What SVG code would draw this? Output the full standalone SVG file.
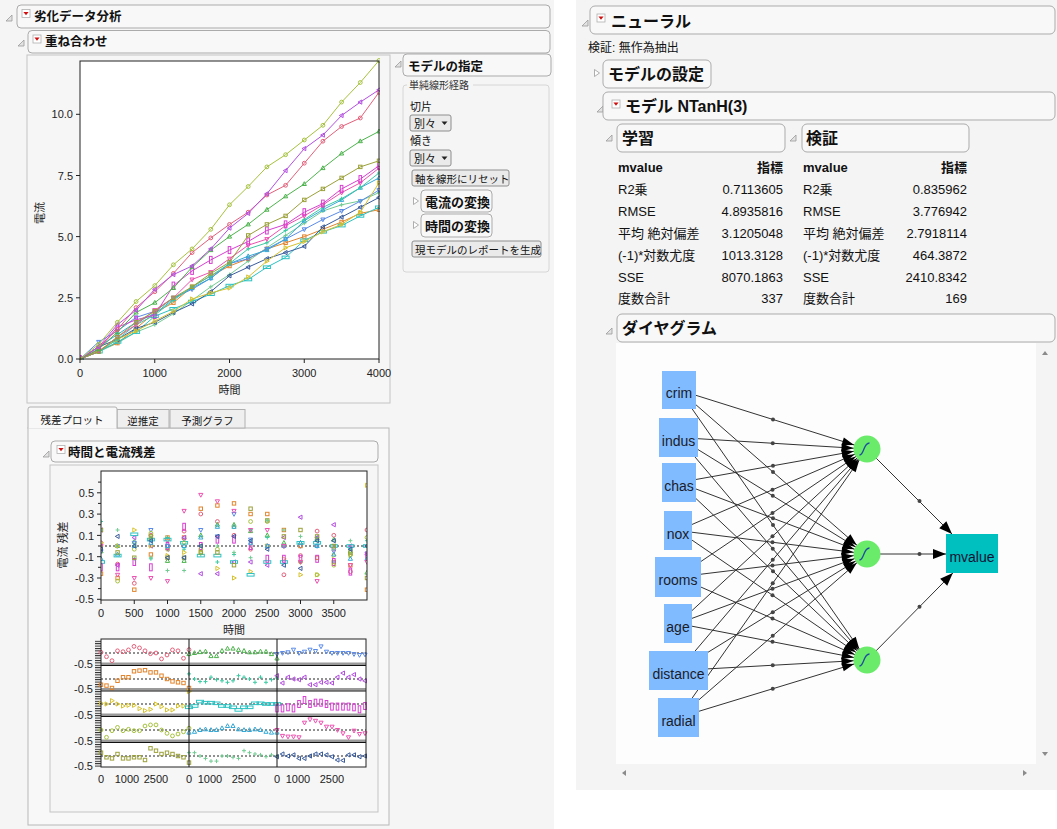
<svg xmlns="http://www.w3.org/2000/svg" width="1057" height="829" viewBox="0 0 1057 829">
<defs>
<style>
 text { font-family: "Liberation Sans","Noto Sans CJK JP",sans-serif; fill:#111; }
 .hdr { fill:#f8f8f8; stroke:#ababab; stroke-width:1; }
 .h1 { font-size:12.5px; font-weight:bold; }
 .h2 { font-size:16px; font-weight:bold; }
 .h3 { font-size:13px; font-weight:bold; }
 .sm { font-size:11px; }
 .bt { font-size:10.5px; }
 .tk { font-size:11px; fill:#222; }
 .tr { text-anchor:end; }
 .tm { text-anchor:middle; }
 .tbl { font-size:13px; }
 .frame { fill:none; stroke:#222; stroke-width:1; }
 .panel { fill:#f6f6f6; stroke:#c4c4c4; stroke-width:1; }
 .btn { fill:#eaeaea; stroke:#8e8e8e; stroke-width:1; }
 .edge { stroke:#333; stroke-width:1; fill:none; }
 .dot { fill:#444; }
 .in rect { fill:#80bbff; }
 .in text { font-size:14px; fill:#1b1b2a; text-anchor:middle; }
 .hid circle { fill:#6aeb6a; }
 .hid path { fill:none; stroke:#1f4f9f; stroke-width:1.3; }
 .ln { fill:none; stroke-width:1; }
 .sA { stroke:#a5c23c; marker:url(#mA); }
 .sB { stroke:#b34fe0; marker:url(#mB); }
 .sC { stroke:#e3607a; marker:url(#mC); }
 .sD { stroke:#4cb34c; marker:url(#mD); }
 .sE { stroke:#9ba13a; marker:url(#mE); }
 .sF { stroke:#d63fd0; marker:url(#mF); }
 .sG { stroke:#ec52b0; marker:url(#mG); }
 .sH { stroke:#3ccaa2; marker:url(#mH); }
 .sI { stroke:#36a9d6; marker:url(#mI); }
 .sJ { stroke:#d6c22e; marker:url(#mJ); }
 .sK { stroke:#5b8be8; marker:url(#mK); }
 .sL { stroke:#3a5c9c; marker:url(#mL); }
 .sM { stroke:#2cc2c2; marker:url(#mM); }
 .sN { stroke:#e2842c; marker:url(#mN); }
 .sO { stroke:#72cc92; marker:url(#mO); }
 .pt { fill:none; stroke:none; }
 .zero { stroke:#222; stroke-width:1; stroke-dasharray:2 2; }
</style>

<!-- point symbols, one per series -->
<marker id="mA" viewBox="-4 -4 8 8" markerWidth="8" markerHeight="8" markerUnits="userSpaceOnUse" overflow="visible"><circle r="1.9" fill="none" stroke="#a5c23c" stroke-width="1"/></marker>
<marker id="mB" viewBox="-4 -4 8 8" markerWidth="8" markerHeight="8" markerUnits="userSpaceOnUse" overflow="visible"><path d="M-2.3,0L1.5,-2.1V2.1Z" fill="none" stroke="#b34fe0" stroke-width="1"/></marker>
<marker id="mC" viewBox="-4 -4 8 8" markerWidth="8" markerHeight="8" markerUnits="userSpaceOnUse" overflow="visible"><circle r="1.9" fill="none" stroke="#e3607a" stroke-width="1"/></marker>
<marker id="mD" viewBox="-4 -4 8 8" markerWidth="8" markerHeight="8" markerUnits="userSpaceOnUse" overflow="visible"><path d="M0,-2.3L2.1,1.5H-2.1Z" fill="none" stroke="#4cb34c" stroke-width="1"/></marker>
<marker id="mE" viewBox="-4 -4 8 8" markerWidth="8" markerHeight="8" markerUnits="userSpaceOnUse" overflow="visible"><rect x="-1.7" y="-1.7" width="3.4" height="3.4" fill="none" stroke="#9ba13a" stroke-width="1"/></marker>
<marker id="mF" viewBox="-4 -4 8 8" markerWidth="8" markerHeight="8" markerUnits="userSpaceOnUse" overflow="visible"><rect x="-1.3" y="-3.5" width="2.6" height="7" fill="none" stroke="#d63fd0" stroke-width="1"/></marker>
<marker id="mG" viewBox="-4 -4 8 8" markerWidth="8" markerHeight="8" markerUnits="userSpaceOnUse" overflow="visible"><path d="M0,2.3L2.1,-1.5H-2.1Z" fill="none" stroke="#ec52b0" stroke-width="1"/></marker>
<marker id="mH" viewBox="-4 -4 8 8" markerWidth="8" markerHeight="8" markerUnits="userSpaceOnUse" overflow="visible"><path d="M-2,0H2M0,-2V2" fill="none" stroke="#3ccaa2" stroke-width="1"/></marker>
<marker id="mI" viewBox="-4 -4 8 8" markerWidth="8" markerHeight="8" markerUnits="userSpaceOnUse" overflow="visible"><path d="M0,-2.3L2.1,1.5H-2.1Z" fill="none" stroke="#36a9d6" stroke-width="1"/></marker>
<marker id="mJ" viewBox="-4 -4 8 8" markerWidth="8" markerHeight="8" markerUnits="userSpaceOnUse" overflow="visible"><path d="M2.3,0L-1.5,-2.1V2.1Z" fill="none" stroke="#d6c22e" stroke-width="1"/></marker>
<marker id="mK" viewBox="-4 -4 8 8" markerWidth="8" markerHeight="8" markerUnits="userSpaceOnUse" overflow="visible"><path d="M0,2.3L2.1,-1.5H-2.1Z" fill="none" stroke="#5b8be8" stroke-width="1"/></marker>
<marker id="mL" viewBox="-4 -4 8 8" markerWidth="8" markerHeight="8" markerUnits="userSpaceOnUse" overflow="visible"><path d="M-2.3,0L1.5,-2.1V2.1Z" fill="none" stroke="#3a5c9c" stroke-width="1"/></marker>
<marker id="mM" viewBox="-4 -4 8 8" markerWidth="8" markerHeight="8" markerUnits="userSpaceOnUse" overflow="visible"><rect x="-3.5" y="-1.3" width="7" height="2.6" fill="none" stroke="#2cc2c2" stroke-width="1"/></marker>
<marker id="mN" viewBox="-4 -4 8 8" markerWidth="8" markerHeight="8" markerUnits="userSpaceOnUse" overflow="visible"><rect x="-1.7" y="-1.7" width="3.4" height="3.4" fill="none" stroke="#e2842c" stroke-width="1"/></marker>
<marker id="mO" viewBox="-4 -4 8 8" markerWidth="8" markerHeight="8" markerUnits="userSpaceOnUse" overflow="visible"><path d="M-2,0H2M0,-2V2" fill="none" stroke="#72cc92" stroke-width="1"/></marker>

<!-- arrowheads of the network diagram -->
<marker id="ah" viewBox="-27 -5 30 10" markerWidth="30" markerHeight="10" refX="0" refY="0" markerUnits="userSpaceOnUse" orient="auto" overflow="visible"><path d="M-13.5,0L-25.5,-4L-25.5,4Z" fill="#000"/></marker>
<marker id="ah2" viewBox="-15 -6 16 12" markerWidth="16" markerHeight="12" refX="0" refY="0" markerUnits="userSpaceOnUse" orient="auto" overflow="visible"><path d="M0,0L-13,-5L-13,5Z" fill="#000"/></marker>

<pattern id="tkp" width="6" height="2.4" patternUnits="userSpaceOnUse"><rect width="6" height="1" fill="#222"/></pattern>

<clipPath id="cpRes"><rect x="101" y="471" width="266" height="129"/></clipPath>
<clipPath id="cpOv"><rect x="80" y="58" width="300" height="302"/></clipPath>

<g id="redicon"><rect width="8" height="8" fill="#fff" stroke="#b0b0b0" stroke-width="0.8"/><path d="M1.4,2.5H6.6L4,5.8Z" fill="#d01010"/></g>
<path id="dtri" d="M0,6L6,0V6Z" fill="#e2e2e2" stroke="#9a9a9a" stroke-width="0.8"/>
<path id="ctri" d="M0.5,0L5.5,3.5L0.5,7Z" fill="#fff" stroke="#9a9a9a" stroke-width="0.8"/>
</defs>

<!-- page backgrounds -->
<rect width="1057" height="829" fill="#fff"/>
<rect x="0" y="0" width="554" height="829" fill="#f5f5f5"/>
<rect x="576" y="0" width="481" height="790" fill="#f4f4f4"/>

<!-- ===== left report ===== -->
<g id="hdr-degradation">
 <use href="#dtri" x="6" y="15"/>
 <rect class="hdr" x="17" y="5" width="533" height="23" rx="4"/>
 <use href="#redicon" x="22" y="9.5"/>
 <text class="h1" x="34" y="21">劣化データ分析</text>
</g>
<g id="hdr-overlay">
 <use href="#dtri" x="18" y="40"/>
 <rect class="hdr" x="28" y="30.5" width="522" height="22.5" rx="4"/>
 <use href="#redicon" x="33" y="35"/>
 <text class="h1" x="45" y="46">重ね合わせ</text>
</g>

<!-- overlay plot -->
<g id="overlay-plot">
 <rect class="panel" x="27" y="55" width="363" height="348"/>
 <rect x="80" y="61" width="299" height="298" fill="#fff"/>
 <g clip-path="url(#cpOv)">
  <polyline class="ln sO" points="80,359 98.7,351.7 117.4,343.1 136.1,332.1 154.8,324.7 173.4,313.7 192.1,300.3 210.8,286.8 229.5,274.6 248.2,261.1 266.9,247.7 285.6,235.4 304.3,223.2 322.9,211 341.6,204.8 360.3,200.9 379,192.6"/>
  <polyline class="ln sN" points="80,359 98.7,350.4 117.4,343.1 136.1,328.4 154.8,312.5 173.4,302.7 192.1,286.8 210.8,275.8 229.5,266 248.2,258.7 266.9,248.9 285.6,242.8 304.3,236.6 322.9,229.3 341.6,222 360.3,213.4 379,209.7"/>
  <polyline class="ln sM" points="80,359 98.7,351.7 117.4,341.9 136.1,332.1 154.8,316.2 173.4,308.8 192.1,301.5 210.8,294.2 229.5,285.6 248.2,279.5 266.9,267.2 285.6,257.4 304.3,240.3 322.9,231.8 341.6,225.6 360.3,215.9 379,207.3"/>
  <polyline class="ln sL" points="80,359 98.7,346.8 117.4,339.4 136.1,328.4 154.8,322.3 173.4,312.5 192.1,303.9 210.8,291.7 229.5,275.8 248.2,267.2 266.9,258.7 285.6,252.6 304.3,246.4 322.9,226.9 341.6,217.1 360.3,207.3 379,197.5"/>
  <polyline class="ln sK" points="80,359 98.7,341.9 117.4,330.9 136.1,317.4 154.8,311.3 173.4,297.8 192.1,289.3 210.8,278.2 229.5,263.6 248.2,258.7 266.9,248.9 285.6,239.1 304.3,229.3 322.9,219.5 341.6,211 360.3,201.2 379,190.2"/>
  <polyline class="ln sJ" points="80,359 98.7,350.4 117.4,339.4 136.1,330.9 154.8,321.1 173.4,311.3 192.1,299 210.8,292.9 229.5,288 248.2,277 266.9,261.1 285.6,247.7 304.3,241.5 322.9,231.8 341.6,224.4 360.3,212.2 379,182.8"/>
  <polyline class="ln sI" points="80,359 98.7,346.8 117.4,334.5 136.1,322.3 154.8,313.7 173.4,299 192.1,288 210.8,278.2 229.5,263.6 248.2,256.2 266.9,250.1 285.6,239.1 304.3,220.7 322.9,209.7 341.6,199.9 360.3,187.7 379,177.9"/>
  <polyline class="ln sH" points="80,359 98.7,351.7 117.4,339.4 136.1,324.7 154.8,315 173.4,300.3 192.1,286.8 210.8,275.8 229.5,263.6 248.2,248.9 266.9,242.8 285.6,230.5 304.3,219.5 322.9,207.3 341.6,198.7 360.3,187.7 379,173"/>
  <polyline class="ln sG" points="80,359 98.7,351.7 117.4,337 136.1,324.7 154.8,310.1 173.4,297.8 192.1,279.5 210.8,272.1 229.5,258.7 248.2,245.2 266.9,239.1 285.6,225.6 304.3,215.9 322.9,204.8 341.6,192.6 360.3,182.8 379,168.1"/>
  <polyline class="ln sF" points="80,359 98.7,349.2 117.4,327.2 136.1,319.8 154.8,315 173.4,285.6 192.1,270.9 210.8,259.9 229.5,250.1 248.2,241.5 266.9,230.5 285.6,224.4 304.3,212.2 322.9,203.6 341.6,188.9 360.3,179.1 379,165.7"/>
  <polyline class="ln sE" points="80,359 98.7,351.7 117.4,337 136.1,322.3 154.8,311.3 173.4,297.8 192.1,286.8 210.8,273.4 229.5,262.3 248.2,235.4 266.9,224.4 285.6,215.9 304.3,199.9 322.9,188.9 341.6,177.9 360.3,166.9 379,160.8"/>
  <polyline class="ln sD" points="80,359 98.7,349.2 117.4,332.1 136.1,312.5 154.8,302.7 173.4,288 192.1,267.2 210.8,250.1 229.5,236.6 248.2,224.4 266.9,209.7 285.6,196.3 304.3,184 322.9,168.1 341.6,153.5 360.3,141.2 379,131.4"/>
  <polyline class="ln sC" points="80,359 98.7,346.8 117.4,329.6 136.1,307.6 154.8,291.7 173.4,273.4 192.1,252.6 210.8,237.9 229.5,224.4 248.2,212.2 266.9,195 285.6,185.3 304.3,163.2 322.9,141.2 341.6,126.5 360.3,118 379,92.3"/>
  <polyline class="ln sB" points="80,359 98.7,346.8 117.4,324.7 136.1,310.1 154.8,289.3 173.4,274.6 192.1,266 210.8,248.9 229.5,228.1 248.2,213.4 266.9,193.8 285.6,170.6 304.3,148.6 322.9,135.1 341.6,115.5 360.3,102.1 379,89.8"/>
  <polyline class="ln sA" points="80,359 98.7,344.3 117.4,322.3 136.1,301.5 154.8,285.6 173.4,264.8 192.1,248.9 210.8,229.3 229.5,204.8 248.2,186.5 266.9,166.9 285.6,154.7 304.3,140 322.9,125.3 341.6,102.1 360.3,82.5 379,60.5"/>
 </g>
 <rect class="frame" x="80" y="61" width="299" height="298"/>
 <path d="M80,359v4M154.75,359v4M229.5,359v4M304.25,359v4M379,359v4M76,359h4M76,297.8h4M76,236.6h4M76,175.5h4M76,114.3h4" stroke="#222" stroke-width="1"/>
 <text class="tk tr" x="73" y="363">0.0</text>
 <text class="tk tr" x="73" y="301.8">2.5</text>
 <text class="tk tr" x="73" y="240.6">5.0</text>
 <text class="tk tr" x="73" y="179.5">7.5</text>
 <text class="tk tr" x="73" y="118.3">10.0</text>
 <text class="tk tm" x="80" y="377">0</text>
 <text class="tk tm" x="154.75" y="377">1000</text>
 <text class="tk tm" x="229.5" y="377">2000</text>
 <text class="tk tm" x="304.25" y="377">3000</text>
 <text class="tk tm" x="379" y="377">4000</text>
 <text class="tk tm" x="229.5" y="394">時間</text>
 <text class="tk tm" transform="translate(44,213) rotate(-90)">電流</text>
</g>

<!-- model specification panel -->
<g id="model-spec">
 <use href="#dtri" x="395" y="61"/>
 <rect class="hdr" x="403" y="54" width="148" height="22" rx="4"/>
 <text class="h1" x="408" y="70.5">モデルの指定</text>
 <rect x="403" y="85" width="146" height="187" rx="3" fill="none" stroke="#d6d6d6"/>
 <rect x="407" y="80" width="66" height="10" fill="#f5f5f5"/>
 <text x="409" y="89" style="font-size:10px;fill:#333">単純線形経路</text>
 <text class="sm" x="410" y="111">切片</text>
 <rect class="btn" x="410" y="115" width="41" height="16" rx="2"/>
 <text class="sm" x="414" y="127.5">別々</text>
 <path d="M441.5,121.5h6l-3,3.5z" fill="#222"/>
 <text class="sm" x="410" y="145">傾き</text>
 <rect class="btn" x="410" y="150" width="41" height="16" rx="2"/>
 <text class="sm" x="414" y="162.5">別々</text>
 <path d="M441.5,156.5h6l-3,3.5z" fill="#222"/>
 <rect class="btn" x="412" y="170" width="97" height="16" rx="2"/>
 <text class="bt" x="415" y="182.5">軸を線形にリセット</text>
 <use href="#ctri" x="413" y="197.5"/>
 <rect class="hdr" x="421" y="190" width="71" height="22" rx="4"/>
 <text class="h3" x="425" y="206.5">電流の変換</text>
 <use href="#ctri" x="413" y="221.5"/>
 <rect class="hdr" x="421" y="214" width="71" height="23" rx="4"/>
 <text class="h3" x="425" y="230.5">時間の変換</text>
 <rect class="btn" x="412" y="241" width="129" height="16" rx="2"/>
 <text class="bt" x="415" y="253.5">現モデルのレポートを生成</text>
</g>

<!-- tabs -->
<g id="tabs">
 <rect x="28" y="428" width="361" height="397" fill="#f8f8f8" stroke="#b8b8b8"/>
 <rect x="117" y="409.5" width="52" height="18.5" fill="#efefef" stroke="#b0b0b0"/>
 <rect x="170" y="409.5" width="75" height="18.5" fill="#efefef" stroke="#b0b0b0"/>
 <path d="M28,428.5V409Q28,407 30,407H115Q117,407 117,409V428.5" fill="#f8f8f8" stroke="#b0b0b0"/>
 <text class="bt tm" x="72" y="424">残差プロット</text>
 <text class="bt tm" x="143" y="425">逆推定</text>
 <text class="bt tm" x="207.5" y="425">予測グラフ</text>
</g>

<g id="hdr-residual">
 <use href="#dtri" x="43" y="451"/>
 <rect class="hdr" x="51" y="441" width="327" height="21" rx="4"/>
 <use href="#redicon" x="57" y="445.5"/>
 <text class="h1" x="68" y="457">時間と電流残差</text>
</g>

<!-- residual plot -->
<g id="residual-plot">
 <rect class="panel" x="50" y="465" width="328" height="347"/>
 <rect x="101" y="471" width="266" height="129" fill="#fff"/>
 <line class="zero" x1="101" y1="546" x2="367" y2="546"/>
 <g clip-path="url(#cpRes)">
  <g transform="translate(101,546)">
   <polyline class="sC pt" points="0,-3.2 16.6,18.1 33.3,37.3 49.9,-10.7 66.5,-6.4 83.1,-14.9 99.8,-32 116.4,-24.5 133,-10.7 149.6,3.2 166.3,0 182.9,28.8 199.5,9.6 216.1,-14.9 232.8,-10.7 249.4,25.6 266,-16"/>
   <polyline class="sD pt" points="0,5.3 16.6,0 33.3,-4.3 49.9,-7.5 66.5,14.9 83.1,14.9 99.8,-10.7 116.4,-21.3 133,-21.3 149.6,-14.9 166.3,-10.7 182.9,-3.2 199.5,-3.2 216.1,-7.5 232.8,-6.4 249.4,5.3 266,26.6"/>
   <polyline class="sK pt" points="0,5.3 16.6,0 33.3,-3.2 49.9,-16 66.5,0 83.1,-6.4 99.8,-16 116.4,-9.6 133,-32 149.6,-6.4 166.3,0 182.9,0 199.5,0 216.1,0 232.8,5.3 249.4,9.6 266,7.5"/>
   <polyline class="sN pt" points="0,27.7 16.6,32 33.3,43.7 49.9,8.5 66.5,-8.5 83.1,-8.5 99.8,-37.3 116.4,-40.5 133,-42.6 149.6,-32 166.3,-32 182.9,-16 199.5,0 216.1,11.7 232.8,16 249.4,19.2 266,43.7"/>
   <polyline class="sH pt" points="0,-24.5 16.6,0 33.3,12.8 49.9,12.8 66.5,-8.5 83.1,3.2 99.8,8.5 116.4,16 133,8.5 149.6,-16 166.3,-8.5 182.9,0 199.5,16 216.1,-8.5 232.8,16 249.4,3.2 266,-5.3"/>
   <polyline class="sB pt" points="0,-16 16.6,19.2 33.3,-8.5 49.9,0 66.5,3.2 83.1,-8.5 99.8,27.7 116.4,27.7 133,16 149.6,16 166.3,19.2 182.9,-8.5 199.5,-28.8 216.1,-8.5 232.8,-21.3 249.4,0 266,8.5"/>
   <polyline class="sJ pt" points="0,-3.2 16.6,0 33.3,-16 49.9,0 66.5,9.6 83.1,6.4 99.8,6.4 116.4,22.4 133,32 149.6,25.6 166.3,0 182.9,12.8 199.5,28.8 216.1,28.8 232.8,9.6 249.4,9.6 266,-60.7"/>
   <polyline class="sM pt" points="0,16 16.6,9.6 33.3,-11.7 49.9,-6.4 66.5,-6.4 83.1,-3.2 99.8,9.6 116.4,9.6 133,16 149.6,28.8 166.3,16 182.9,16 199.5,-3.2 216.1,-3.2 232.8,0 249.4,0 266,0"/>
   <polyline class="sF pt" points="0,21.3 16.6,21.3 33.3,16 49.9,21.3 66.5,0 83.1,-19.2 99.8,0 116.4,-6.4 133,-6.4 149.6,0 166.3,12.8 182.9,12.8 199.5,12.8 216.1,12.8 232.8,16 249.4,25.6 266,9.6"/>
   <polyline class="sA pt" points="0,0 16.6,35.1 33.3,3.2 49.9,-12.8 66.5,3.2 83.1,-3.2 99.8,3.2 116.4,3.2 133,-19.2 149.6,-24.5 166.3,-24.5 182.9,0 199.5,16 216.1,28.8 232.8,19.2 249.4,8.5 266,-8.5"/>
   <polyline class="sI pt" points="0,12.8 16.6,8.5 33.3,0 49.9,-3.2 66.5,0 83.1,0 99.8,-8.5 116.4,-19.2 133,-19.2 149.6,-3.2 166.3,0 182.9,0 199.5,-3.2 216.1,0 232.8,8.5 249.4,12.8 266,12.8"/>
   <polyline class="sG pt" points="0,0 16.6,28.8 33.3,32 49.9,32 66.5,35.1 83.1,-35.1 99.8,-51.1 116.4,-44.7 133,-35.1 149.6,-16 166.3,-16 182.9,0 199.5,16 216.1,35.1 232.8,3.2 249.4,19.2 266,16"/>
   <polyline class="sE pt" points="0,-16 16.6,6.4 33.3,11.7 49.9,-9.6 66.5,11.7 83.1,11.7 99.8,6.4 116.4,6.4 133,19.2 149.6,-37.3 166.3,-25.6 182.9,-9.6 199.5,-16 216.1,-9.6 232.8,0 249.4,6.4 266,32"/>
   <polyline class="sO pt" points="0,-16 16.6,-16 33.3,0 49.9,11.7 66.5,24.5 83.1,24.5 99.8,0 116.4,0 133,6.4 149.6,11.7 166.3,-25.6 182.9,-16 199.5,-9.6 216.1,-5.3 232.8,3.2 249.4,-5.3 266,0"/>
   <polyline class="sL pt" points="0,3.2 16.6,-9.6 33.3,0 49.9,-5.3 66.5,11.7 83.1,11.7 99.8,0 116.4,-9.6 133,-9.6 149.6,-5.3 166.3,3.2 182.9,19.2 199.5,22.4 216.1,-5.3 232.8,-5.3 249.4,3.2 266,0"/>
  </g>
 </g>
 <rect class="frame" x="101" y="471" width="266" height="129"/>
 <path d="M97,599.3h4M98,588.6h3M97,578h4M98,567.3h3M97,556.7h4M98,546h3M97,535.4h4M98,524.7h3M97,514.1h4M98,503.4h3M97,492.8h4M98,482.1h3M101,600v4M134.25,600v4M167.5,600v4M200.75,600v4M234,600v4M267.25,600v4M300.5,600v4M333.75,600v4" stroke="#222" stroke-width="1"/>
 <text class="tk tr" x="94" y="497">0.5</text>
 <text class="tk tr" x="94" y="518">0.3</text>
 <text class="tk tr" x="94" y="539.5">0.1</text>
 <text class="tk tr" x="94" y="561">-0.1</text>
 <text class="tk tr" x="94" y="582">-0.3</text>
 <text class="tk tr" x="94" y="603">-0.5</text>
 <text class="tk tm" x="101" y="617">0</text>
 <text class="tk tm" x="134.25" y="617">500</text>
 <text class="tk tm" x="167.5" y="617">1000</text>
 <text class="tk tm" x="200.75" y="617">1500</text>
 <text class="tk tm" x="234" y="617">2000</text>
 <text class="tk tm" x="267.25" y="617">2500</text>
 <text class="tk tm" x="300.5" y="617">3000</text>
 <text class="tk tm" x="333.75" y="617">3500</text>
 <text class="tk tm" x="234" y="634">時間</text>
 <text class="tk tm" transform="translate(67,545) rotate(-90)">電流 残差</text>
</g>

<!-- per-series residual panels -->
<g id="residual-grid">
 <rect x="101" y="639" width="265" height="128" fill="#fff"/>
 <rect x="95" y="640" width="6" height="127" fill="url(#tkp)"/>
 <g fill="#9a9a9a">
  <rect x="101" y="662.5" width="265" height="2.5"/>
  <rect x="101" y="688" width="265" height="2.5"/>
  <rect x="101" y="713.5" width="265" height="2.5"/>
  <rect x="101" y="739.5" width="265" height="2.5"/>
 </g>
 <g class="zero">
  <line x1="101" y1="653" x2="366" y2="653"/>
  <line x1="101" y1="679" x2="366" y2="679"/>
  <line x1="101" y1="704" x2="366" y2="704"/>
  <line x1="101" y1="730" x2="366" y2="730"/>
  <line x1="101" y1="756" x2="366" y2="756"/>
 </g>
 <polyline class="sC pt" transform="translate(101,653)" points="0,-0.7 5.5,3.7 11,7.7 16.5,-2.2 22,-1.3 27.5,-3.1 33,-6.6 38.5,-5.1 44,-2.2 49.5,0.7 55,0 60.5,5.9 66,2 71.5,-3.1 77,-2.2 82.5,5.3 88,-3.3"/>
 <polyline class="sD pt" transform="translate(189,653)" points="0,1.1 5.5,0 11,-0.9 16.5,-1.5 22,3.1 27.5,3.1 33,-2.2 38.5,-4.4 44,-4.4 49.5,-3.1 55,-2.2 60.5,-0.7 66,-0.7 71.5,-1.5 77,-1.3 82.5,1.1 88,5.5"/>
 <polyline class="sK pt" transform="translate(277,653)" points="0,1.1 5.5,0 11,-0.7 16.5,-3.3 22,0 27.5,-1.3 33,-3.3 38.5,-2 44,-6.6 49.5,-1.3 55,0 60.5,0 66,0 71.5,0 77,1.1 82.5,2 88,1.5"/>
 <polyline class="sN pt" transform="translate(101,679)" points="0,5.7 5.5,6.6 11,9 16.5,1.8 22,-1.8 27.5,-1.8 33,-7.7 38.5,-8.4 44,-8.8 49.5,-6.6 55,-6.6 60.5,-3.3 66,0 71.5,2.4 77,3.3 82.5,4 88,9"/>
 <polyline class="sH pt" transform="translate(189,679)" points="0,-5.1 5.5,0 11,2.6 16.5,2.6 22,-1.8 27.5,0.7 33,1.8 38.5,3.3 44,1.8 49.5,-3.3 55,-1.8 60.5,0 66,3.3 71.5,-1.8 77,3.3 82.5,0.7 88,-1.1"/>
 <polyline class="sB pt" transform="translate(277,679)" points="0,-3.3 5.5,4 11,-1.8 16.5,0 22,0.7 27.5,-1.8 33,5.7 38.5,5.7 44,3.3 49.5,3.3 55,4 60.5,-1.8 66,-5.9 71.5,-1.8 77,-4.4 82.5,0 88,1.8"/>
 <polyline class="sJ pt" transform="translate(101,704)" points="0,-0.7 5.5,0 11,-3.3 16.5,0 22,2 27.5,1.3 33,1.3 38.5,4.6 44,6.6 49.5,5.3 55,0 60.5,2.6 66,5.9 71.5,5.9 77,2 82.5,2 88,-12.5"/>
 <polyline class="sM pt" transform="translate(189,704)" points="0,3.3 5.5,2 11,-2.4 16.5,-1.3 22,-1.3 27.5,-0.7 33,2 38.5,2 44,3.3 49.5,5.9 55,3.3 60.5,3.3 66,-0.7 71.5,-0.7 77,0 82.5,0 88,0"/>
 <polyline class="sF pt" transform="translate(277,704)" points="0,4.4 5.5,4.4 11,3.3 16.5,4.4 22,0 27.5,-4 33,0 38.5,-1.3 44,-1.3 49.5,0 55,2.6 60.5,2.6 66,2.6 71.5,2.6 77,3.3 82.5,5.3 88,2"/>
 <polyline class="sA pt" transform="translate(101,730)" points="0,0 5.5,7.3 11,0.7 16.5,-2.6 22,0.7 27.5,-0.7 33,0.7 38.5,0.7 44,-4 49.5,-5.1 55,-5.1 60.5,0 66,3.3 71.5,5.9 77,4 82.5,1.8 88,-1.8"/>
 <polyline class="sI pt" transform="translate(189,730)" points="0,2.6 5.5,1.8 11,0 16.5,-0.7 22,0 27.5,0 33,-1.8 38.5,-4 44,-4 49.5,-0.7 55,0 60.5,0 66,-0.7 71.5,0 77,1.8 82.5,2.6 88,2.6"/>
 <polyline class="sG pt" transform="translate(277,730)" points="0,0 5.5,5.9 11,6.6 16.5,6.6 22,7.3 27.5,-7.3 33,-10.6 38.5,-9.2 44,-7.3 49.5,-3.3 55,-3.3 60.5,0 66,3.3 71.5,7.3 77,0.7 82.5,4 88,3.3"/>
 <polyline class="sE pt" transform="translate(101,756)" points="0,-3.3 5.5,1.3 11,2.4 16.5,-2 22,2.4 27.5,2.4 33,1.3 38.5,1.3 44,4 49.5,-7.7 55,-5.3 60.5,-2 66,-3.3 71.5,-2 77,0 82.5,1.3 88,6.6"/>
 <polyline class="sO pt" transform="translate(189,756)" points="0,-3.3 5.5,-3.3 11,0 16.5,2.4 22,5.1 27.5,5.1 33,0 38.5,0 44,1.3 49.5,2.4 55,-5.3 60.5,-3.3 66,-2 71.5,-1.1 77,0.7 82.5,-1.1 88,0"/>
 <polyline class="sL pt" transform="translate(277,756)" points="0,0.7 5.5,-2 11,0 16.5,-1.1 22,2.4 27.5,2.4 33,0 38.5,-2 44,-2 49.5,-1.1 55,0.7 60.5,4 66,4.4 71.5,-1.1 77,-1.1 82.5,0.7 88,0"/>
 <path d="M101,665.5H366M101,691H366M101,716.5H366M101,742.5H366M189,639V767M277,639V767" stroke="#111" stroke-width="1"/>
 <rect class="frame" x="101" y="639" width="265" height="128" stroke-width="1.3"/>
 <text class="tk tr" x="93" y="667.5">-0.5</text>
 <text class="tk tr" x="93" y="693">-0.5</text>
 <text class="tk tr" x="93" y="718.5">-0.5</text>
 <text class="tk tr" x="93" y="744.5">-0.5</text>
 <text class="tk tr" x="93" y="770">-0.5</text>
 <text class="tk tm" x="101" y="783">0</text>
 <text class="tk tm" x="127" y="783">1000</text>
 <text class="tk tm" x="156" y="783">2500</text>
 <text class="tk tm" x="189" y="783">0</text>
 <text class="tk tm" x="210" y="783">1000</text>
 <text class="tk tm" x="244" y="783">2500</text>
 <text class="tk tm" x="277" y="783">0</text>
 <text class="tk tm" x="298" y="783">1000</text>
 <text class="tk tm" x="332" y="783">2500</text>
</g>

<!-- ===== right report ===== -->
<g id="hdr-neural">
 <use href="#dtri" x="582" y="20"/>
 <rect class="hdr" x="590" y="6" width="465" height="28" rx="5"/>
 <use href="#redicon" x="597" y="14"/>
 <text class="h2" x="611" y="26.5">ニューラル</text>
</g>
<text id="validation-note" x="588" y="52" style="font-size:12px">検証: 無作為抽出</text>
<g id="hdr-model-settings">
 <use href="#ctri" x="594" y="69.5"/>
 <rect class="hdr" x="603" y="60" width="108" height="28" rx="5"/>
 <text class="h2" x="608" y="80">モデルの設定</text>
</g>
<g id="hdr-model">
 <use href="#dtri" x="597" y="106"/>
 <rect class="hdr" x="603" y="92" width="452" height="28" rx="5"/>
 <use href="#redicon" x="612" y="100"/>
 <text class="h2" x="625" y="112">モデル NTanH(3)</text>
</g>

<g id="training-table">
 <use href="#dtri" x="606" y="135"/>
 <rect class="hdr" x="617" y="124" width="168" height="28" rx="5"/>
 <text class="h2" x="622" y="144">学習</text>
 <text class="tbl" x="618" y="172" font-weight="bold">mvalue</text>
 <text class="tbl tr" x="783" y="172" font-weight="bold">指標</text>
 <text class="tbl" x="618" y="194">R2乗</text><text class="tbl tr" x="783" y="194">0.7113605</text>
 <text class="tbl" x="618" y="216">RMSE</text><text class="tbl tr" x="783" y="216">4.8935816</text>
 <text class="tbl" x="618" y="238">平均 絶対偏差</text><text class="tbl tr" x="783" y="238">3.1205048</text>
 <text class="tbl" x="618" y="260">(-1)*対数尤度</text><text class="tbl tr" x="783" y="260">1013.3128</text>
 <text class="tbl" x="618" y="282">SSE</text><text class="tbl tr" x="783" y="282">8070.1863</text>
 <text class="tbl" x="618" y="303">度数合計</text><text class="tbl tr" x="783" y="303">337</text>
</g>

<g id="validation-table">
 <use href="#dtri" x="790" y="135"/>
 <rect class="hdr" x="802" y="124" width="167" height="28" rx="5"/>
 <text class="h2" x="806" y="144">検証</text>
 <text class="tbl" x="803" y="172" font-weight="bold">mvalue</text>
 <text class="tbl tr" x="967" y="172" font-weight="bold">指標</text>
 <text class="tbl" x="803" y="194">R2乗</text><text class="tbl tr" x="967" y="194">0.835962</text>
 <text class="tbl" x="803" y="216">RMSE</text><text class="tbl tr" x="967" y="216">3.776942</text>
 <text class="tbl" x="803" y="238">平均 絶対偏差</text><text class="tbl tr" x="967" y="238">2.7918114</text>
 <text class="tbl" x="803" y="260">(-1)*対数尤度</text><text class="tbl tr" x="967" y="260">464.3872</text>
 <text class="tbl" x="803" y="282">SSE</text><text class="tbl tr" x="967" y="282">2410.8342</text>
 <text class="tbl" x="803" y="303">度数合計</text><text class="tbl tr" x="967" y="303">169</text>
</g>

<g id="hdr-diagram">
 <use href="#dtri" x="606" y="328"/>
 <rect class="hdr" x="617" y="314" width="438" height="28" rx="5"/>
 <text class="h2" x="622" y="334">ダイヤグラム</text>
</g>

<!-- network diagram canvas -->
<rect x="616" y="343" width="420" height="421" fill="#fdfdfd"/>
<g id="scroll-arrows" fill="#8a8a8a">
 <path d="M1042,355h6l-3,-4z"/>
 <path d="M1042,752h6l-3,4z"/>
 <path d="M626,770v6l-4,-3z"/>
 <path d="M1023,770v6l4,-3z"/>
</g>

<g id="connectors">
 <g class="edge" marker-end="url(#ah)">
  <line x1="679" y1="390" x2="867" y2="449"/><line x1="679" y1="390" x2="867" y2="554"/><line x1="679" y1="390" x2="867" y2="660"/>
  <line x1="678.5" y1="437.5" x2="867" y2="449"/><line x1="678.5" y1="437.5" x2="867" y2="554"/><line x1="678.5" y1="437.5" x2="867" y2="660"/>
  <line x1="679" y1="482.5" x2="867" y2="449"/><line x1="679" y1="482.5" x2="867" y2="554"/><line x1="679" y1="482.5" x2="867" y2="660"/>
  <line x1="678" y1="530.5" x2="867" y2="449"/><line x1="678" y1="530.5" x2="867" y2="554"/><line x1="678" y1="530.5" x2="867" y2="660"/>
  <line x1="678" y1="577" x2="867" y2="449"/><line x1="678" y1="577" x2="867" y2="554"/><line x1="678" y1="577" x2="867" y2="660"/>
  <line x1="678" y1="623.5" x2="867" y2="449"/><line x1="678" y1="623.5" x2="867" y2="554"/><line x1="678" y1="623.5" x2="867" y2="660"/>
  <line x1="678.5" y1="670.5" x2="867" y2="449"/><line x1="678.5" y1="670.5" x2="867" y2="554"/><line x1="678.5" y1="670.5" x2="867" y2="660"/>
  <line x1="678.5" y1="717.5" x2="867" y2="449"/><line x1="678.5" y1="717.5" x2="867" y2="554"/><line x1="678.5" y1="717.5" x2="867" y2="660"/>
 </g>
 <g class="edge" marker-end="url(#ah2)">
  <line x1="867" y1="449" x2="952" y2="534"/>
  <line x1="867" y1="554" x2="946" y2="554"/>
  <line x1="867" y1="660" x2="952.8" y2="573"/>
 </g>
 <g class="dot">
  <circle cx="773" cy="419.5" r="2"/><circle cx="773" cy="472" r="2"/><circle cx="773" cy="525" r="2"/>
  <circle cx="772.75" cy="443.25" r="2"/><circle cx="772.75" cy="495.75" r="2"/><circle cx="772.75" cy="548.75" r="2"/>
  <circle cx="773" cy="465.75" r="2"/><circle cx="773" cy="518.25" r="2"/><circle cx="773" cy="571.25" r="2"/>
  <circle cx="772.5" cy="489.75" r="2"/><circle cx="772.5" cy="542.25" r="2"/><circle cx="772.5" cy="595.25" r="2"/>
  <circle cx="772.5" cy="513" r="2"/><circle cx="772.5" cy="565.5" r="2"/><circle cx="772.5" cy="618.5" r="2"/>
  <circle cx="772.5" cy="536.25" r="2"/><circle cx="772.5" cy="588.75" r="2"/><circle cx="772.5" cy="641.75" r="2"/>
  <circle cx="772.75" cy="559.75" r="2"/><circle cx="772.75" cy="612.25" r="2"/><circle cx="772.75" cy="665.25" r="2"/>
  <circle cx="772.75" cy="583.25" r="2"/><circle cx="772.75" cy="635.75" r="2"/><circle cx="772.75" cy="688.75" r="2"/>
  <circle cx="919.5" cy="501" r="2"/><circle cx="919.5" cy="554" r="2"/><circle cx="919.5" cy="606.75" r="2"/>
 </g>
</g>

<g id="n-crim" class="in"><rect x="662" y="371" width="34" height="38"/><text x="679" y="398">crim</text></g>
<g id="n-indus" class="in"><rect x="659" y="418" width="39" height="39"/><text x="678.5" y="445.5">indus</text></g>
<g id="n-chas" class="in"><rect x="662" y="463" width="34" height="39"/><text x="679" y="490.5">chas</text></g>
<g id="n-nox" class="in"><rect x="664" y="511" width="28" height="39"/><text x="678" y="538.5">nox</text></g>
<g id="n-rooms" class="in"><rect x="655" y="557" width="46" height="40"/><text x="678" y="585">rooms</text></g>
<g id="n-age" class="in"><rect x="664" y="604" width="28" height="39"/><text x="678" y="631.5">age</text></g>
<g id="n-distance" class="in"><rect x="649" y="651" width="59" height="39"/><text x="678.5" y="678.5">distance</text></g>
<g id="n-radial" class="in"><rect x="658" y="698" width="41" height="39"/><text x="678.5" y="725.5">radial</text></g>

<g id="n-h1" class="hid"><circle cx="867" cy="449" r="13.5"/><path d="M859.5,455C864.5,455 863,443 869.5,443"/></g>
<g id="n-h2" class="hid"><circle cx="867" cy="554" r="13.5"/><path d="M859.5,560C864.5,560 863,548 869.5,548"/></g>
<g id="n-h3" class="hid"><circle cx="867" cy="660" r="13.5"/><path d="M859.5,666C864.5,666 863,654 869.5,654"/></g>

<g id="n-mvalue"><rect x="946" y="534" width="52" height="39" fill="#00bfbf"/><text x="972" y="561.5" style="font-size:14px;fill:#113;text-anchor:middle">mvalue</text></g>
</svg>
